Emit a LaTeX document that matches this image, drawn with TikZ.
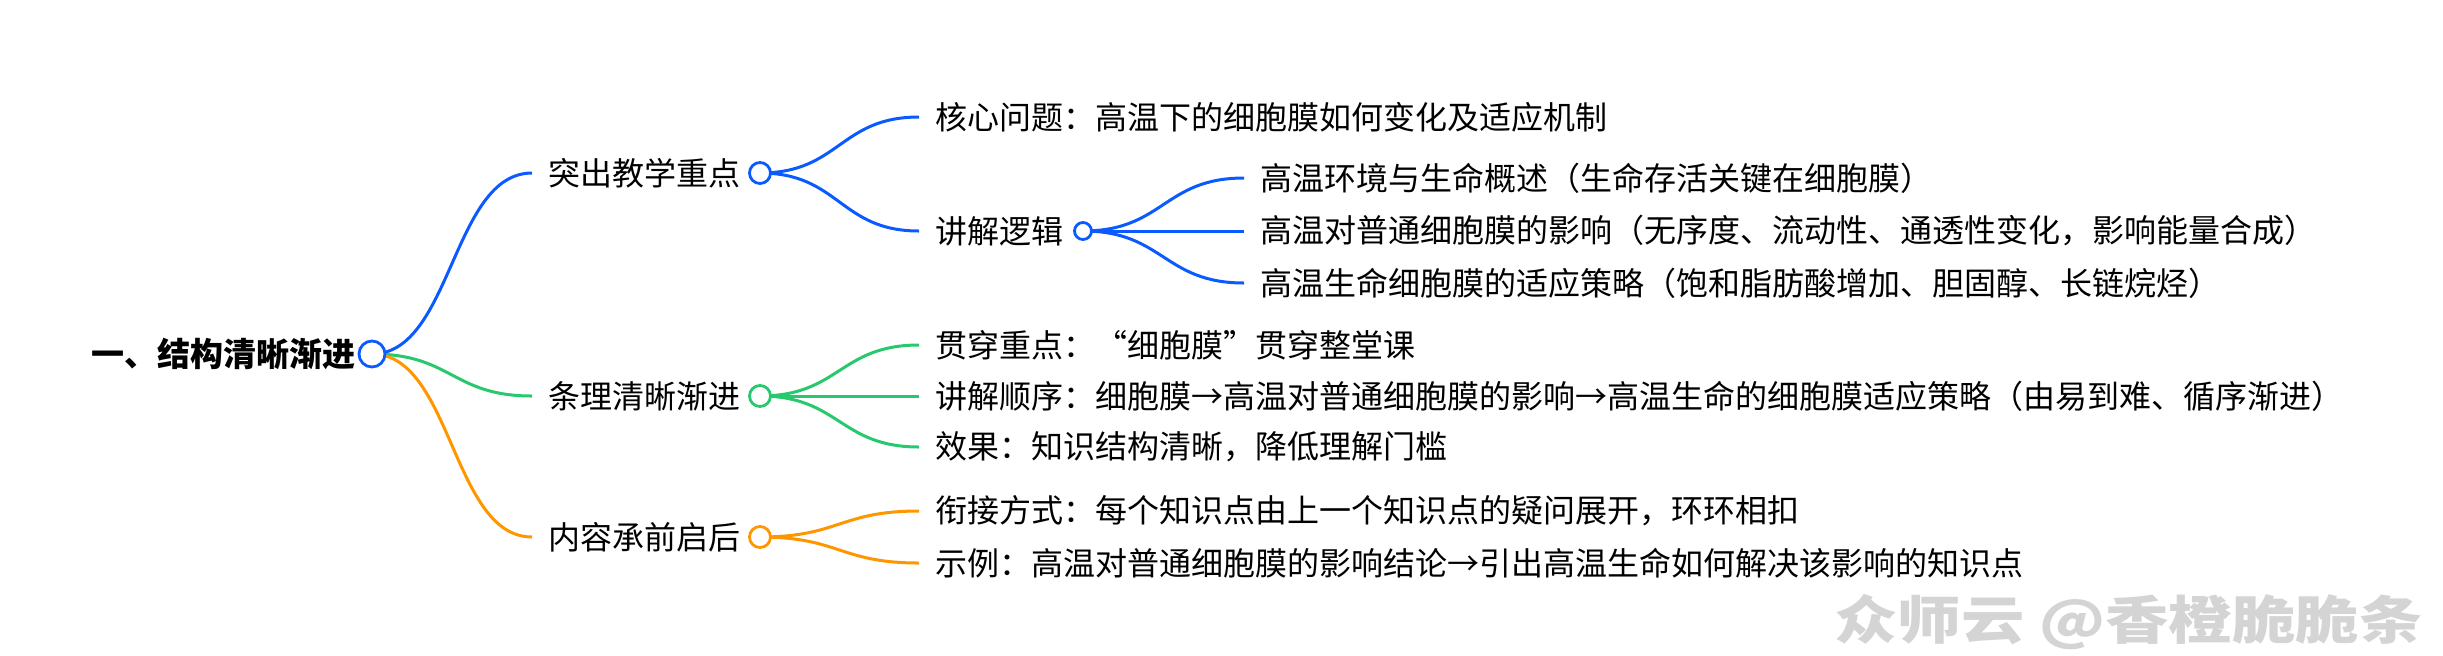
\documentclass[tikz,border=0pt]{standalone}
\usepackage{fontspec}
\setmainfont{Noto Sans CJK SC}
\usetikzlibrary{calc}
\definecolor{mblue}{RGB}{10,90,255}
\definecolor{mgreen}{RGB}{40,200,110}
\definecolor{morange}{RGB}{255,150,0}
\definecolor{wmgray}{RGB}{212,212,212}
\tikzset{
  lbl/.style={anchor=west, inner sep=0pt, font=\fontsize{16pt}{16pt}\selectfont, text=black},
  rootlbl/.style={anchor=east, inner sep=0pt, font=\fontsize{16.5pt}{16.5pt}\selectfont\bfseries, text=black},
  dot/.style={circle, draw, fill=white, line width=1.4pt, inner sep=0pt, minimum size=#1},
  link/.style={line width=1.5pt},
  curvy/.style={to path={let \p1=(\tikztostart), \p2=(\tikztotarget) in
      .. controls ({(\x1+\x2)/2},\y1) and ({(\x1+\x2)/2},\y2) .. (\tikztotarget)}},
}
\begin{document}
\begin{tikzpicture}[x=0.5pt,y=-0.5pt]
\useasboundingbox (0,0) rectangle (2443,655);
% root
\node[rootlbl] (root) at (356,354) {一、结构清晰渐进};
% level 1
\node[lbl] (a) at (548,173) {突出教学重点};
\node[lbl] (b) at (548,396) {条理清晰渐进};
\node[lbl] (c) at (548,537) {内容承前启后};
% level 2 - blue
\node[lbl] (a1) at (935,117) {核心问题：高温下的细胞膜如何变化及适应机制};
\node[lbl] (a2) at (935,231) {讲解逻辑};
% level 3
\node[lbl] (a21) at (1260,178) {高温环境与生命概述（生命存活关键在细胞膜）};
\node[lbl] (a22) at (1260,231) {高温对普通细胞膜的影响（无序度、流动性、通透性变化，影响能量合成）};
\node[lbl] (a23) at (1260,283) {高温生命细胞膜的适应策略（饱和脂肪酸增加、胆固醇、长链烷烃）};
% level 2 - green
\node[lbl] (b1) at (935,345) {贯穿重点：“细胞膜”贯穿整堂课};
\node[lbl] (b2) at (935,396) {讲解顺序：细胞膜→高温对普通细胞膜的影响→高温生命的细胞膜适应策略（由易到难、循序渐进）};
\node[lbl] (b3) at (935,447) {效果：知识结构清晰，降低理解门槛};
% level 2 - orange
\node[lbl] (c1) at (935,511) {衔接方式：每个知识点由上一个知识点的疑问展开，环环相扣};
\node[lbl] (c2) at (935,563) {示例：高温对普通细胞膜的影响结论→引出高温生命如何解决该影响的知识点};

% links
\draw[link,mblue] (372,354) to[curvy] ([xshift=-8pt]a.west);
\draw[link,mgreen] (372,354) to[curvy] ([xshift=-8pt]b.west);
\draw[link,morange] (372,354) to[curvy] ([xshift=-8pt]c.west);

\draw[link,mblue] (760,173) to[curvy] ([xshift=-8pt]a1.west);
\draw[link,mblue] (760,173) to[curvy] ([xshift=-8pt]a2.west);
\draw[link,mblue] (1083,231) to[curvy] ([xshift=-8pt]a21.west);
\draw[link,mblue] (1083,231) to[curvy] ([xshift=-8pt]a22.west);
\draw[link,mblue] (1083,231) to[curvy] ([xshift=-8pt]a23.west);

\draw[link,mgreen] (760,396) to[curvy] ([xshift=-8pt]b1.west);
\draw[link,mgreen] (760,396) to[curvy] ([xshift=-8pt]b2.west);
\draw[link,mgreen] (760,396) to[curvy] ([xshift=-8pt]b3.west);

\draw[link,morange] (760,537) to[curvy] ([xshift=-8pt]c1.west);
\draw[link,morange] (760,537) to[curvy] ([xshift=-8pt]c2.west);

% circles
\node[dot=13pt, draw=mblue] (rootdot) at (372,354) {};
\node[dot=10.5pt, draw=mblue] (adot) at (760,173) {};
\node[dot=10.5pt, draw=mgreen] (bdot) at (760,396) {};
\node[dot=10.5pt, draw=morange] (cdot) at (760,537) {};
\node[dot=8.5pt, draw=mblue] (a2dot) at (1083,231) {};

% watermark
\node[anchor=east, inner sep=0pt, font=\fontsize{26pt}{26pt}\selectfont\bfseries, text=wmgray] (wm) at (2423,622) {\scalebox{1.22}[1]{众师云 @香橙脆脆条}};
\end{tikzpicture}
\end{document}
